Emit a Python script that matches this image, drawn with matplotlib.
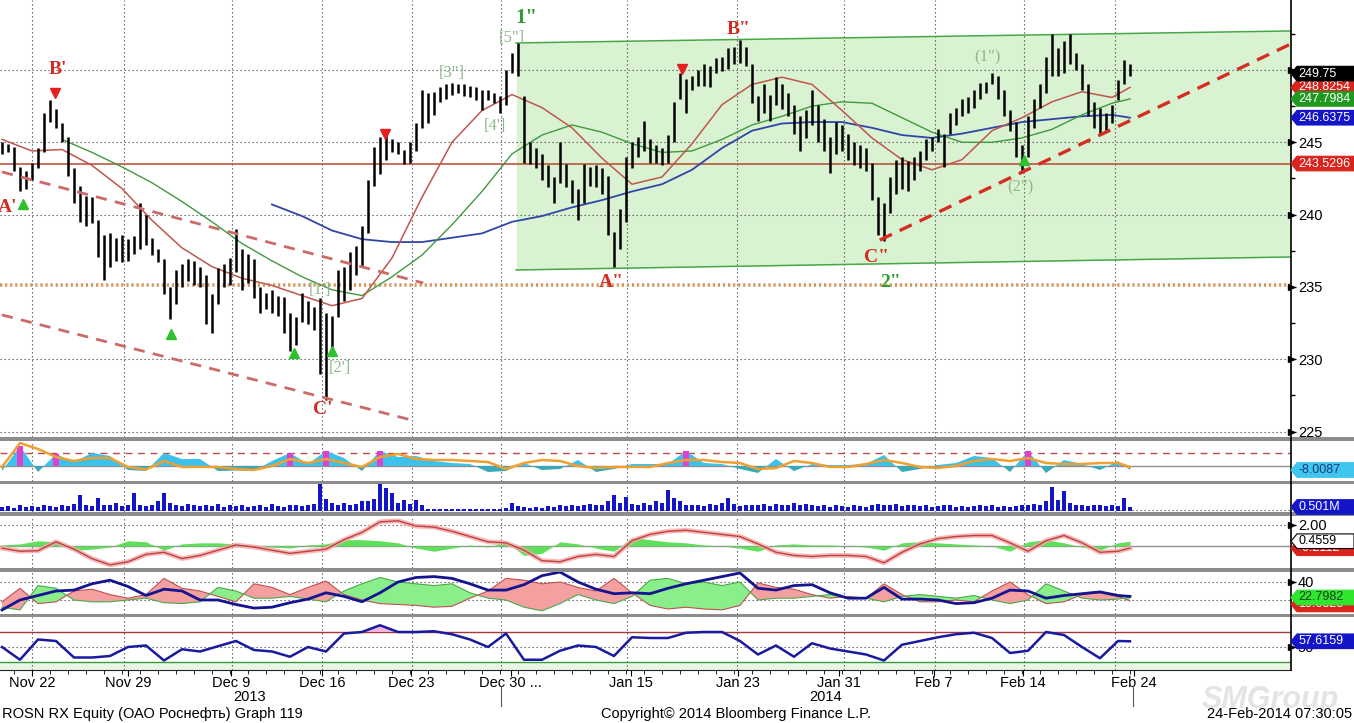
import numpy as np
import matplotlib
matplotlib.use('Agg')
import matplotlib.pyplot as plt
from matplotlib.patches import Polygon, Rectangle
from matplotlib.lines import Line2D
import matplotlib.transforms as mtrans

plt.rcParams['font.family'] = ['Liberation Sans Narrow', 'Liberation Sans', 'DejaVu Sans']

# ---------------- data ----------------
high = [245.0,244.9,244.7,243.3,243.0,243.6,244.6,247.0,247.9,247.3,
        246.3,245.4,243.2,242.0,241.3,241.2,239.6,238.6,238.7,238.4,
        238.6,238.3,238.5,240.8,240.0,238.4,237.6,236.9,235.0,236.2,
        236.6,236.9,236.8,236.4,235.8,234.5,236.3,236.6,237.0,239.0,
        237.6,237.3,236.9,235.0,234.6,234.8,234.4,234.3,233.2,232.9,
        234.6,234.0,233.6,234.2,233.2,233.0,236.2,236.4,237.4,237.8,
        239.2,242.4,244.7,245.4,245.9,245.2,245.0,244.5,245.0,246.3,
        248.6,248.4,248.5,248.8,249.0,249.1,249.0,249.0,248.9,248.8,
        248.6,248.6,248.4,248.2,250.0,251.2,251.9,248.2,245.0,244.6,
        244.2,243.4,242.6,245.0,243.5,242.4,241.8,243.5,243.3,243.4,
        243.2,242.7,238.8,240.4,244.0,245.0,245.4,246.5,245.2,244.8,
        244.6,245.5,247.8,249.8,249.4,249.6,250.0,250.4,250.3,250.8,
        250.9,251.5,251.6,252.1,251.6,250.4,248.2,249.0,248.3,249.5,
        249.0,248.4,247.6,246.8,247.2,248.6,247.6,246.6,245.4,246.4,
        246.2,245.6,245.0,244.8,244.6,243.6,241.2,240.8,242.6,243.8,
        244.0,243.7,244.0,244.4,245.2,245.4,245.9,245.6,247.0,247.4,
        248.0,248.1,248.6,249.1,249.2,249.8,249.6,248.6,247.2,246.4,
        244.8,246.8,248.0,249.0,250.9,252.5,251.5,252.0,252.5,251.2,
        250.4,249.0,247.8,247.4,247.0,247.6,249.3,250.7,250.4]
low = [244.2,244.3,243.0,241.6,241.8,242.4,243.2,244.3,246.4,246.0,
       245.0,242.7,240.8,239.5,239.2,239.4,237.1,235.5,236.4,236.8,
       236.7,236.8,237.3,237.6,237.9,237.2,236.7,234.5,232.8,233.8,
       235.0,235.4,235.1,235.0,232.4,231.8,233.8,235.0,235.1,236.0,
       234.8,235.3,234.2,233.2,233.5,233.2,233.0,231.8,230.6,231.0,
       232.6,232.4,232.0,229.0,227.2,230.8,232.9,234.0,234.8,235.8,
       236.4,238.7,242.0,242.8,243.8,244.3,244.2,243.5,243.6,244.4,
       246.0,246.3,246.9,247.8,248.0,248.3,248.4,248.2,248.1,247.9,
       247.2,247.9,247.7,247.0,247.6,249.8,249.6,243.6,243.5,243.2,
       242.4,241.9,240.8,242.2,241.9,240.8,239.6,240.8,242.0,241.9,
       241.4,238.6,236.4,237.6,239.5,243.2,244.0,244.4,243.6,243.6,
       243.4,243.6,245.0,248.0,247.0,248.6,248.9,248.9,248.8,249.8,
       249.9,250.1,250.4,250.5,250.3,247.7,246.5,247.0,246.5,247.6,
       247.3,246.8,245.6,244.4,245.3,246.2,245.0,244.4,242.9,244.2,
       244.4,243.8,243.4,243.2,243.0,241.0,238.6,238.2,240.1,241.4,
       241.8,241.6,242.4,243.0,243.8,244.4,245.0,243.3,245.6,246.2,
       246.8,247.0,247.4,248.0,248.4,249.0,248.0,246.8,245.8,244.0,
       242.9,244.0,246.0,247.4,248.4,249.6,249.6,249.8,250.4,250.0,
       248.6,246.8,246.0,245.6,245.8,246.3,247.9,249.0,249.6]
volume_m = [0.5,0.6,0.4,0.7,0.5,0.6,0.5,0.8,0.6,0.5,
            0.7,0.6,0.9,2.0,0.7,0.6,1.6,0.8,0.7,1.0,
            0.6,0.8,2.2,0.7,0.6,0.8,1.2,2.2,1.0,0.7,
            0.6,0.9,0.7,0.6,0.8,0.6,0.9,0.5,0.7,0.6,
            0.8,0.5,0.6,0.7,0.5,0.9,0.6,0.5,0.7,0.8,
            0.6,0.7,0.9,3.5,1.5,1.0,0.8,1.0,0.7,0.9,
            1.2,1.3,1.5,3.6,2.9,2.2,1.0,1.4,0.9,1.4,
            0.8,0.3,0.2,0.2,0.3,0.2,0.2,0.3,0.2,0.2,
            0.3,0.2,0.3,0.2,0.4,1.0,0.6,0.5,0.4,0.5,
            0.4,0.6,0.5,0.7,0.6,0.8,0.6,0.7,0.9,0.7,
            0.8,1.2,2.0,1.0,1.8,0.9,0.8,1.0,0.8,1.2,
            1.0,2.6,1.6,1.2,0.8,0.7,0.8,0.6,0.9,0.7,
            1.0,1.6,0.9,0.6,0.8,0.7,0.7,0.9,0.6,0.9,
            0.8,0.7,1.0,0.8,0.9,0.7,0.6,0.8,0.5,0.7,
            0.6,0.5,0.7,0.6,0.5,0.8,0.9,0.8,0.7,0.9,
            0.6,0.8,0.7,0.6,0.7,0.5,0.6,0.8,0.7,0.5,
            0.6,0.5,0.6,0.7,0.6,0.7,0.5,0.6,0.5,0.6,
            0.8,0.7,0.9,0.8,1.2,3.0,1.4,2.5,1.0,0.8,
            0.7,0.6,0.7,0.8,0.6,0.7,0.6,1.6,0.5]

ma_bars = list(range(0, 186, 5)) + [188]
ma_red = [245.2,244.4,244.5,243.4,241.8,239.6,237.7,236.4,235.6,235.1,
          234.4,233.7,234.2,237.0,241.2,245.0,247.2,248.3,247.4,246.0,
          243.9,242.1,242.6,244.9,247.6,249.0,249.5,249.0,247.2,245.3,
          243.8,243.1,243.8,245.8,246.7,247.8,248.5,248.1,248.8]
ma_green = [np.nan,np.nan,245.2,244.3,243.3,242.2,240.9,239.5,238.0,236.8,
            235.7,234.8,234.4,235.7,237.2,239.3,241.6,244.2,245.5,246.2,
            245.7,244.9,244.3,244.4,245.2,246.2,246.8,247.5,247.8,247.7,
            246.7,245.7,245.0,245.0,245.3,245.9,246.9,247.7,248.0]
ma_blue = [np.nan]*9 + [240.7,239.9,238.9,238.3,238.1,238.1,238.4,238.7,239.5,239.9,
                        240.5,241.0,241.6,242.1,243.1,244.6,245.8,246.3,246.4,246.4,
                        246.0,245.5,245.3,245.6,246.0,246.4,246.6,246.8,246.9,246.7]

support_level = 243.5296
old_level = 235.1
trend_down_upper = ([0, 70.2], [242.95, 235.27])
trend_down_lower = ([0, 68.2], [233.06, 225.8])
trend_up = ([146.3, 214.8], [238.24, 251.8])
channel_x = [85.7, 214.8]
channel_top = [251.87, 252.7]
channel_bot = [236.17, 237.07]

ind_bars = list(range(0, 187, 3)) + [188]
osc_hist = [-10,40,-12,24,8,26,20,-8,-10,26, 14,14,-10,-9,-10,10,26,4,30,16,
            -10,30,18,20,10,6,4,-12,-10,6, -8,-6,12,-12,-6,4,4,4,30,6,
            4,-6,-14,14,-10,4,2,2,4,22, -12,-6,2,6,20,16,-12,30,-14,12,
            4,-8,10,-8]
osc_spikes = [1, 3, 16, 18, 21, 38, 57]
osc_line = [-2,46,34,18,10,16,16,-2,-7,10, -2,-2,-2,-6,-8,0,14,6,14,6,
            -2,18,24,14,12,12,10,8,-6,6, 12,10,0,-4,-2,-2,-2,6,12,12,
            8,6,-6,-4,10,6,-2,-2,4,12, 6,-2,-4,0,10,14,10,16,6,4,
            4,6,6,-2]
macd_hist = [0.1,0.2,0.5,0.4,-0.4,-0.3,-0.1,0.5,0.4,-0.4, 0.2,0.3,0.3,0.2,-0.1,-0.1,-0.2,0.1,0.2,0.6,
             0.6,0.5,0.3,-0.2,-0.5,-0.2,0.1,-0.1,0.4,-0.9, -0.7,0.4,0.2,-0.2,-0.5,0.8,0.6,0.4,0.3,0.1,
             0.0,-0.2,-0.5,0.1,0.2,0.1,0.1,0.0,-0.1,-0.4, 0.3,0.4,0.3,0.2,0.1,0.0,-0.5,0.4,0.6,0.3,
             -0.1,-0.4,0.3,0.46]
macd_line = [-0.2,-0.5,-0.45,0.4,-0.3,-1.2,-1.8,-1.5,-0.8,-0.6, -1.2,-0.9,-0.4,0.1,-0.1,-0.4,-0.7,-0.5,-0.3,0.6,
             1.3,2.3,2.4,1.9,1.8,1.4,0.9,0.4,0.3,-0.4, -1.4,-1.5,-1.0,-0.8,-1.0,0.5,1.1,1.4,1.5,1.3,
             1.1,0.9,0.2,-0.6,-0.9,-1.0,-0.9,-0.9,-1.0,-1.6, -0.6,0.2,0.7,0.9,1.0,1.0,0.3,-0.5,0.5,1.0,
             0.3,-0.6,-0.5,-0.2]
dmi_plus = [18,33,16,18,30,32,26,22,26,44, 33,30,24,18,38,34,26,34,41,26,
            20,16,15,14,12,13,22,30,44,42, 38,40,34,30,44,28,14,10,12,10,
            9,14,39,34,32,26,22,24,22,38, 26,18,18,20,18,30,40,26,16,18,
            26,28,24,19]
dmi_minus = [12,9,36,33,20,18,18,20,22,17, 16,18,34,30,22,22,24,21,18,30,
             38,45,40,38,36,38,28,22,20,12, 8,16,26,20,16,24,42,44,38,40,
             36,40,20,22,22,24,26,22,22,18, 24,26,24,22,25,20,16,20,38,30,
             22,20,21,22.8]
adx = [9,20,25,30,31,38,42,35,25,32, 30,20,20,15,11,12,17,21,28,24,
       18,28,40,45,46,44,38,31,31,37, 47,51,40,32,27,28,27,33,38,42,
       46,50,33,31,36,37,28,22,22,34, 21,21,20,16,17,22,31,30,22,25,
       27,29,25,24]
rsi = [50,33,60,58,36,36,38,50,52,32, 47,44,51,58,46,44,37,50,44,68,
       70,79,70,70,71,67,60,50,68,33, 33,45,52,50,38,63,62,62,69,70,
       70,58,40,52,37,55,48,44,40,32, 53,58,63,67,69,62,42,45,70,66,
       50,35,58,57.6]

date_labels = ['Nov 22', 'Nov 29', 'Dec 9', 'Dec 16', 'Dec 23', 'Dec 30 ...',
               'Jan 15', 'Jan 23', 'Jan 31', 'Feb 7', 'Feb 14', 'Feb 24']
year_labels = ['2013', '2014']
price_ticks = [225, 230, 235, 240, 245, 250]

# ---------------- layout ----------------
W, H = 1354, 723
fig = plt.figure(figsize=(W / 100, H / 100), dpi=100)
fig.patch.set_facecolor('white')
XMIN = -1 / 3
XMAX = XMIN + 1291 / 6
label_pos = [5, 21, 38.2, 53.3, 68.2, 84.8, 104.8, 122.7, 139.5, 155.3, 170.2, 188.7]
grid_pos = [5, 20.33, 38.33, 53.33, 68.33, 83.17, 104.17, 122.5, 140.33, 155.5, 170.33, 185.5]
GRID = dict(color='#555555', lw=0.8, ls=(0, (1.2, 2.4)))
FS = 10.5


def add_ax(y0, y1, ylim):
    ax = fig.add_axes([0, 1 - y1 / H, 1291 / W, (y1 - y0) / H])
    ax.set_facecolor('none')
    for s in ax.spines.values():
        s.set_visible(False)
    ax.set_xlim(XMIN, XMAX)
    ax.set_ylim(*ylim)
    ax.set_xticks([])
    ax.yaxis.tick_right()
    ax.set_yticks([])
    for g in grid_pos:
        ax.axvline(g, zorder=1, **GRID)
    return ax


def yticks(ax, ticks, labels, minor=None):
    ax.set_yticks(ticks, labels)
    if minor:
        ax.set_yticks(minor, minor=True)
    ax.tick_params(axis='y', which='major', direction='out', length=3.5, width=1,
                   pad=1.5, labelsize=FS, colors='black')
    ax.tick_params(axis='y', which='minor', direction='out', length=3, width=1)
    tr = mtrans.blended_transform_factory(ax.transAxes, ax.transData)
    ax.plot([1.0] * len(ticks), ticks, ls='none', marker='>', ms=4, color='black',
            transform=tr, clip_on=False, zorder=6)


def ft(x, y, s, **kw):
    return fig.text(x / W, 1 - y / H, s, **kw)


_z = [20]


def tag(ax, val, text, fc, tc='white', ec=None, dy=0):
    z = _z[0]
    _z[0] += 1
    yd = ax.transData.transform((0, val))[1] - dy
    h = 7.3
    pts = [(1291, yd), (1297, yd + h), (1354, yd + h), (1354, yd - h), (1297, yd - h)]
    ptsf = fig.transFigure.inverted().transform(pts)
    fig.add_artist(Polygon(ptsf, closed=True, transform=fig.transFigure, fc=fc,
                           ec=ec or fc, lw=0.8, zorder=z))
    t = fig.text(1298.5 / W, yd / H, text, color=tc, va='center', ha='left', fontsize=9)
    t.set_zorder(z + 0.5)


# ---------------- main panel ----------------
ax = add_ax(0, 437, (224.62, 254.84))
bars = np.arange(len(high))
for lv in [225, 230, 240, 245, 250]:
    ax.axhline(lv, zorder=1, **GRID)
ax.fill_between(channel_x, channel_bot, channel_top, color='#cdeec3', alpha=0.75, zorder=0.5, lw=0)
ax.plot(channel_x, channel_top, color='#45a845', lw=1.1, zorder=2)
ax.plot(channel_x, channel_bot, color='#45a845', lw=1.1, zorder=2)
ax.axhline(support_level, color='#b8482e', lw=1.1, zorder=2)
ax.axhline(old_level, color='#d49560', lw=2.6, ls=(0, (0.6, 0.8)), zorder=2)
ax.plot(ma_bars, ma_blue, color='#3045a8', lw=1.3, zorder=3)
ax.plot(ma_bars, ma_green, color='#3f9a3f', lw=1.0, zorder=3)
ax.plot(ma_bars, ma_red, color='#c0564c', lw=1.1, zorder=3)
ax.vlines(bars, low, high, color='black', lw=1.8, zorder=4)
ax.plot(*trend_down_upper, color='#cc6a6a', lw=2.0, ls=(0, (4, 3)), zorder=5)
ax.plot(*trend_down_lower, color='#cc6a6a', lw=2.0, ls=(0, (4, 3)), zorder=5)
ax.plot(*trend_up, color='#d42e22', lw=2.4, ls=(0, (4, 2.6)), zorder=5, clip_on=False)
yticks(ax, price_ticks, [str(t) for t in price_ticks[:-1]] + [''],
       minor=[227.5, 232.5, 237.5, 242.5, 247.5, 252.5])

RED = '#d42a20'
GRN = '#2e9e2e'
LBL = dict(family=['Liberation Serif', 'DejaVu Serif'], weight='bold', ha='center',
           va='center', zorder=8)
ax.text(9.3, 250.0, "B'", color=RED, fontsize=14, **LBL)
ax.text(1.0, 240.5, "A'", color=RED, fontsize=14, **LBL)
ax.text(53.5, 226.5, "C'", color=RED, fontsize=14, **LBL)
ax.text(87.4, 253.6, '1"', color=GRN, fontsize=15, **LBL)
ax.text(122.7, 252.8, 'B"', color=RED, fontsize=14, **LBL)
ax.text(101.5, 235.3, 'A"', color=RED, fontsize=14, **LBL)
ax.text(145.7, 237.0, 'C"', color=RED, fontsize=14, **LBL)
ax.text(148.0, 235.3, '2"', color=GRN, fontsize=14, **LBL)
WL = dict(family=['Liberation Serif', 'DejaVu Serif'], ha='center', va='center',
          color='#8db88d', fontsize=12, zorder=8)
ax.text(53.0, 234.8, "[1']", **WL)
ax.text(56.3, 229.4, "[2']", **WL)
ax.text(75.0, 249.8, '[3"]', **WL)
ax.text(82.2, 246.1, "[4']", **WL)
ax.text(85.0, 252.2, '[5"]', **WL)
ax.text(164.3, 250.9, '(1")', **WL)
ax.text(169.7, 241.9, '(2")', **WL)
for (x, y) in [(8.8, 248.4), (63.8, 245.6), (113.3, 250.1)]:
    ax.plot(x, y, marker='v', color='#e52020', ms=6.5, zorder=8)
for (x, y) in [(3.5, 240.7), (28.2, 231.75), (48.7, 230.4), (55.0, 230.6), (170.3, 243.8)]:
    ax.plot(x, y, marker='^', color='#2ec02e', ms=6.5, zorder=8)

# ---------------- oscillator panel ----------------
a1 = add_ax(441, 481, (-30, 50))
ih = np.array(osc_hist, float)
a1.fill_between(ind_bars, 0, ih, where=ih >= 0, interpolate=True, color='#3cc0ec', lw=0, zorder=2)
a1.fill_between(ind_bars, 0, ih, where=ih < 0, interpolate=True, color='#3aa8b8', lw=0, zorder=2)
a1.bar([ind_bars[k] for k in osc_spikes], [osc_hist[k] for k in osc_spikes], width=0.9,
       color='#e040d0', zorder=3)
a1.axhline(0, color='#909090', lw=1, zorder=1.5)
a1.axhline(26, color='#c04848', lw=1, ls=(0, (5, 4)), zorder=1.5)
a1.plot(ind_bars, osc_line, color='#f0a030', lw=1.8, zorder=4)

# ---------------- volume panel ----------------
a2 = add_ax(484, 512, (-0.125, 3.375))
a2.axhline(0.125, zorder=1, **GRID)
a2.bar(bars, volume_m, width=0.55, color='#1515c8', zorder=2)

# ---------------- MACD panel ----------------
a3 = add_ax(516, 568, (-2.095, 2.857))
a3.axhline(2.0, zorder=1, **GRID)
a3.axhline(0, color='#909090', lw=1, zorder=1.5)
a3.fill_between(ind_bars, 0, macd_hist, color='#5ee05a', lw=0, zorder=2)
a3.plot(ind_bars, macd_line, color='#f4a8a8', lw=3.5, alpha=0.8, zorder=3)
a3.plot(ind_bars, macd_line, color='#c04040', lw=1.0, zorder=3.5)
yticks(a3, [2.0], ['2.00'])

# ---------------- DMI panel ----------------
a4 = add_ax(572, 614, (4.44, 51.1))
a4.axhline(40, zorder=1, **GRID)
a4.axhline(20, zorder=1, **GRID)
dp = np.array(dmi_plus, float)
dm = np.array(dmi_minus, float)
a4.fill_between(ind_bars, dp, dm, where=dp >= dm, interpolate=True, color='#f4a0a0', lw=0, zorder=2)
a4.fill_between(ind_bars, dp, dm, where=dm > dp, interpolate=True, color='#8aee8a', lw=0, zorder=2)
a4.plot(ind_bars, dp, color='#c05050', lw=0.8, zorder=3)
a4.plot(ind_bars, dm, color='#4aa84a', lw=0.8, zorder=3)
a4.plot(ind_bars, adx, color='#141490', lw=2.0, zorder=4)
yticks(a4, [40], ['40'])

# ---------------- RSI panel ----------------
a5 = add_ax(617, 670, (19.33, 90))
a5.axhspan(19.33, 30, color='#e8f6e4', lw=0, zorder=0.5)
a5.axhline(50, zorder=1, **GRID)
a5.axhline(70, color='#a03c3c', lw=1, zorder=1.5)
a5.axhline(30, color='#3c9c3c', lw=1, zorder=1.5)
rs = np.array(rsi, float)
a5.fill_between(ind_bars, 70, rs, where=rs > 70, interpolate=True, color='#f0b4e4', lw=0, zorder=2)
a5.fill_between(ind_bars, 30, rs, where=rs < 30, interpolate=True, color='#b0f0b0', lw=0, zorder=2)
a5.plot(ind_bars, rsi, color='#1a1aa0', lw=1.8, zorder=3)
yticks(a5, [50], ['50'])
a5.spines['bottom'].set_visible(True)
a5.spines['bottom'].set_color('#222222')
a5.set_xticks(label_pos, date_labels)
a5.set_xticks(np.arange(2, 189, 3), minor=True)
a5.tick_params(axis='x', which='major', length=4, pad=0.5, labelsize=FS)
a5.tick_params(axis='x', which='minor', length=3)

# ---------------- figure furniture ----------------
for (y0, y1) in [(437, 441), (481, 484), (512, 516), (568, 572), (614, 617)]:
    fig.add_artist(Rectangle((0, 1 - y1 / H), 1, (y1 - y0) / H, transform=fig.transFigure,
                             fc='#8c8c8c', ec='none', zorder=15))
fig.add_artist(Line2D([1291 / W, 1291 / W], [1 - 670 / H, 1], transform=fig.transFigure,
                      color='black', lw=1.2, zorder=16))
for xs in [501, 1133]:
    fig.add_artist(Line2D([xs / W, xs / W], [1 - 706 / H, 1 - 686 / H], transform=fig.transFigure,
                          color='#555555', lw=0.8))
ft(1270, 700, 'SMGroup', ha='center', va='center', fontsize=22, style='italic',
   weight='bold', color='#e4e4e4', family=['Liberation Sans', 'DejaVu Sans'], zorder=0)
ft(250, 697, year_labels[0], ha='center', va='center', fontsize=FS)
ft(826, 697, year_labels[1], ha='center', va='center', fontsize=FS)
ft(2, 714, 'ROSN RX Equity (ОАО Роснефть) Graph 119', ha='left', va='center', fontsize=FS)
ft(736, 714, 'Copyright© 2014 Bloomberg Finance L.P.', ha='center', va='center', fontsize=FS)
ft(1352, 714, '24-Feb-2014 07:30:05', ha='right', va='center', fontsize=FS)

# value tags
tag(ax, ma_blue[-1], '246.6375', '#1414c8')
tag(ax, ma_red[-1], '248.8254', '#d8241c')
tag(ax, ma_green[-1], '247.7984', '#1f9a1f')
tag(ax, 249.75, '249.75', '#000000')
tag(ax, support_level, '243.5296', '#d8241c')
tag(a1, -8.0087, '-8.0087', '#3ec6ee', tc='#1f3a7a')
tag(a2, 0.501, '0.501M', '#1414c8')
tag(a3, 0.4559, '-0.2112', '#d8241c', dy=7)
tag(a3, 0.4559, '0.4559', 'white', tc='black', ec='black')
tag(a4, 22.7982, '19.0323', '#d8241c', dy=7)
tag(a4, 22.7982, '22.7982', '#2ee62e', tc='#1a3a1a')
tag(a5, 57.6159, '57.6159', '#1414c8')

fig.savefig('out.png', dpi=100, facecolor='white')
